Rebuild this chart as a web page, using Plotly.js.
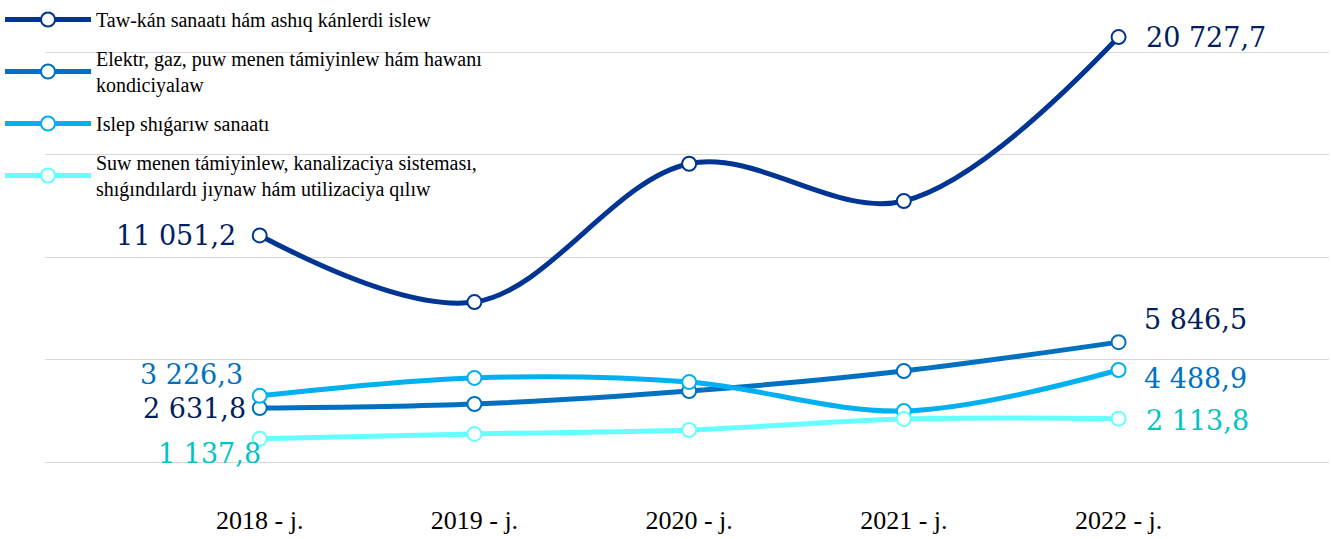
<!DOCTYPE html>
<html><head><meta charset="utf-8">
<script src="https://cdn.plot.ly/plotly-3.0.1.min.js"></script>
<style>html,body{margin:0;padding:0;background:#fff}#chart{width:1331px;height:539px}</style>
</head><body><div id="chart"></div>
<script>
const years = ['2018 - j.', '2019 - j.', '2020 - j.', '2021 - j.', '2022 - j.'];
const tawKan = [11051.2, 7800, 14550, 12730, 20727.7];
const elektr = [2631.8, 2830, 3460, 4440, 5846.5];
const islep = [3226.3, 4100, 3900, 2490, 4488.9];
const suw = [1137.8, 1370, 1560, 2100, 2113.8];
const seriesNames = [
  'Taw-kán sanaatı hám ashıq kánlerdi islew',
  'Elektr, gaz, puw menen támiyinlew hám hawanı<br>kondiciyalaw',
  'Islep shıǵarıw sanaatı',
  'Suw menen támiyinlew, kanalizaciya sisteması,<br>shıǵındılardı jıynaw hám utilizaciya qılıw'
];
const seriesValues = [tawKan, elektr, islep, suw];
const lineColors = ['#003594', '#0070C0', '#00B0F0', '#66FFFF'];
const firstColors = ['#002060', '#002060', '#0070C0', '#00C4C4'];
const lastColors = ['#002060', '#002060', '#0070C0', '#00C4C4'];

function fmt(v) {
  const parts = v.toFixed(1).split('.');
  const intp = parts[0].replace(/\B(?=(\d{3})+(?!\d))/g, ' ');
  return intp + ',' + parts[1];
}

const xIdx = years.map((_, i) => i);
const traces = seriesValues.map((vals, k) => ({
  type: 'scatter', mode: 'lines+markers',
  x: xIdx, y: vals, name: seriesNames[k], legendgroup: 'g' + k,
  line: {color: lineColors[k], width: 5, shape: 'spline', smoothing: 1},
  marker: {symbol: 'circle', size: 14, color: '#ffffff', line: {color: lineColors[k], width: 2}},
  hoverinfo: 'skip'
}));

// label offsets (pixels): [firstXshift, firstYshift, lastXshift, lastYshift]
const labelShift = [
  [-22, 0, 25, 0],
  [-12, 0, 23, 23],
  [-15, 21, 23, -9],
  [3, -15, 25, -2]
];
const annotations = [];
seriesValues.forEach((vals, k) => {
  const s = labelShift[k];
  annotations.push({
    x: 0, y: vals[0], xref: 'x', yref: 'y', text: fmt(vals[0]), showarrow: false,
    xanchor: 'right', yanchor: 'middle', xshift: s[0], yshift: s[1],
    font: {family: 'DejaVu Serif', size: 27, color: firstColors[k]}
  });
  annotations.push({
    x: vals.length - 1, y: vals[vals.length - 1], xref: 'x', yref: 'y', text: fmt(vals[vals.length - 1]), showarrow: false,
    xanchor: 'left', yanchor: 'middle', xshift: s[2], yshift: s[3],
    font: {family: 'DejaVu Serif', size: 27, color: lastColors[k]}
  });
});

const layout = {
  width: 1331, height: 539,
  margin: {l: 45, r: 2, t: 11, b: 77, autoexpand: false},
  paper_bgcolor: '#ffffff', plot_bgcolor: '#ffffff',
  showlegend: true,
  legend: {
    x: 0, y: 1, xref: 'container', yref: 'container', xanchor: 'left', yanchor: 'top',
    bgcolor: 'rgba(0,0,0,0)', itemwidth: 86, traceorder: 'grouped', tracegroupgap: 10,
    font: {family: 'Liberation Serif', size: 20, color: '#000000'}
  },
  xaxis: {
    type: 'linear', range: [-1, 4.98], tickvals: xIdx, ticktext: years,
    showgrid: false, zeroline: false, showline: false, ticks: '',
    ticklabelstandoff: 40,
    tickfont: {family: 'Liberation Serif', size: 26, color: '#000000'}
  },
  yaxis: {
    range: [0, 22000], dtick: 5000, tick0: 0, showticklabels: false,
    showgrid: true, gridcolor: '#d9d9d9', gridwidth: 1,
    zeroline: true, zerolinecolor: '#d9d9d9', zerolinewidth: 1, showline: false, ticks: ''
  },
  annotations: annotations
};

Plotly.newPlot('chart', traces, layout, {displayModeBar: false, staticPlot: true});
</script>
</body></html>
